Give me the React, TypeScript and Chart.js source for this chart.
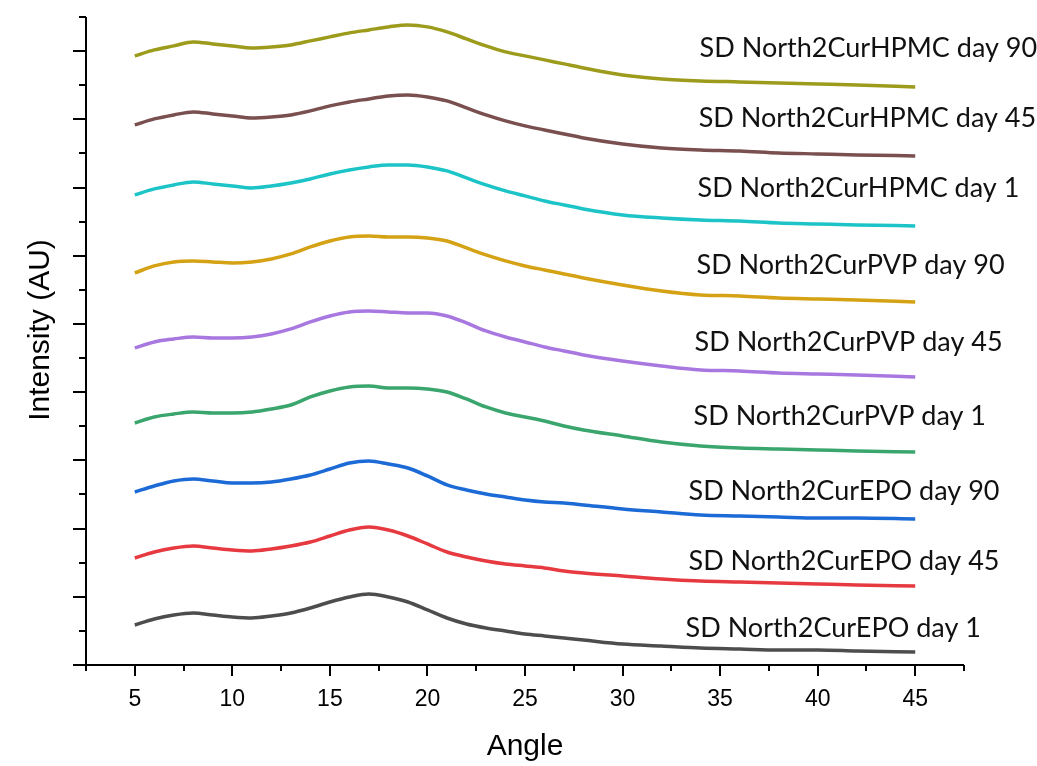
import React, { useEffect, useRef } from "react";
import { Chart, registerables } from "chart.js";

Chart.register(...registerables);

// Diffraction angle (2θ) sampling points
const angles = [5, 6, 7, 8, 9, 10, 11, 12, 13, 14, 15, 16, 17, 18, 19, 20, 21, 22, 23, 24, 25, 26, 27, 28, 30, 32, 34, 36, 38, 40, 42, 45];

// Offset (stacked) intensities, arbitrary units
const epoDay1 = [40, 46, 50, 52, 50, 48, 47, 49, 52, 57, 63, 68, 71, 68, 63, 55, 47, 41, 37, 34, 31, 29, 27, 25, 21, 19, 17, 16, 15, 15, 14, 13];
const epoDay45 = [107, 113, 117, 119, 117, 115, 114, 116, 119, 123, 129, 135, 138, 135, 129, 121, 113, 108, 104, 101, 99, 97, 94, 92, 89, 86, 84, 83, 82, 81, 80, 79];
const epoDay90 = [173, 179, 184, 186, 184, 182, 182, 183, 186, 190, 196, 202, 204, 201, 197, 189, 180, 175, 171, 168, 165, 163, 162, 160, 156, 153, 150, 149, 148, 147, 147, 146];
const pvpDay1 = [242, 248, 251, 253, 252, 252, 253, 256, 260, 268, 274, 278, 279, 277, 277, 276, 273, 266, 258, 252, 248, 244, 239, 235, 229, 223, 219, 217, 216, 215, 214, 213];
const pvpDay45 = [317, 323, 326, 328, 327, 327, 328, 331, 336, 343, 349, 353, 354, 353, 352, 352, 349, 342, 334, 328, 323, 318, 314, 310, 304, 299, 295, 294, 292, 291, 290, 288];
const pvpDay90 = [392, 399, 403, 404, 403, 402, 403, 406, 411, 418, 424, 428, 429, 428, 428, 427, 424, 417, 410, 404, 399, 395, 391, 387, 380, 374, 370, 369, 367, 366, 365, 363];
const hpmcDay1 = [470, 476, 480, 483, 481, 479, 477, 479, 482, 486, 491, 495, 498, 500, 500, 498, 494, 487, 480, 474, 469, 464, 460, 456, 450, 447, 445, 444, 442, 441, 440, 439];
const hpmcDay45 = [540, 546, 550, 553, 551, 549, 547, 548, 550, 554, 559, 563, 566, 569, 570, 568, 564, 557, 550, 544, 539, 535, 531, 527, 521, 517, 515, 514, 512, 511, 510, 509];
const hpmcDay90 = [609, 615, 619, 623, 621, 619, 617, 618, 620, 624, 628, 632, 635, 638, 640, 638, 633, 626, 619, 613, 609, 605, 601, 597, 590, 586, 584, 583, 582, 581, 580, 578];

const seriesNames = [
  "SD North2CurEPO day 1",
  "SD North2CurEPO day 45",
  "SD North2CurEPO day 90",
  "SD North2CurPVP day 1",
  "SD North2CurPVP day 45",
  "SD North2CurPVP day 90",
  "SD North2CurHPMC day 1",
  "SD North2CurHPMC day 45",
  "SD North2CurHPMC day 90",
];
const seriesValues = [epoDay1, epoDay45, epoDay90, pvpDay1, pvpDay45, pvpDay90, hpmcDay1, hpmcDay45, hpmcDay90];
const seriesColors = ["#4d4d4d", "#e63a40", "#1c6ad6", "#3aa56c", "#a878e0", "#d4a214", "#1cc4c8", "#7a4f4f", "#9c9b1c"];

// Label anchor (angle, intensity) for each trace caption
const labelAngles = [33.23, 33.38, 33.38, 33.64, 33.69, 33.79, 33.84, 33.9, 33.95];
const labelIntensities = [28, 95, 165, 240, 314, 391, 468, 538, 608];

// Axis ranges / ticks
const xMin = 2.5;
const xMax = 47.5;
const xStep = 2.5;
const yStep = 34.1;
const yTickCount = 19;

const decorPlugin = {
  id: "decor",
  afterDraw(chart: any) {
    const { ctx, chartArea, scales } = chart;
    const x = scales.x;
    const y = scales.y;
    ctx.save();
    ctx.strokeStyle = "#000";
    ctx.lineWidth = 2;
    ctx.lineCap = "butt";
    // axis lines
    ctx.beginPath();
    ctx.moveTo(chartArea.left, chartArea.top);
    ctx.lineTo(chartArea.left, chartArea.bottom);
    ctx.moveTo(chartArea.left, chartArea.bottom);
    ctx.lineTo(chartArea.right, chartArea.bottom);
    ctx.stroke();
    // y ticks (outward, left)
    for (let k = 0; k <= yTickCount; k++) {
      const py = Math.round(y.getPixelForValue(k * yStep));
      const len = k % 2 === 0 ? 13 : 7;
      ctx.beginPath();
      ctx.moveTo(chartArea.left - len, py);
      ctx.lineTo(chartArea.left, py);
      ctx.stroke();
    }
    // x ticks (outward, down)
    x.ticks.forEach((t: any) => {
      const px = Math.round(x.getPixelForValue(t.value));
      const major = Math.abs(t.value % 5) < 1e-6;
      const len = major ? 11 : 6;
      ctx.beginPath();
      ctx.moveTo(px, chartArea.bottom);
      ctx.lineTo(px, chartArea.bottom + len);
      ctx.stroke();
    });
    // trace captions
    ctx.fillStyle = "#111";
    ctx.font = '27px Lato, "Open Sans", sans-serif';
    ctx.textAlign = "left";
    ctx.textBaseline = "alphabetic";
    seriesNames.forEach((name, i) => {
      ctx.fillText(name, x.getPixelForValue(labelAngles[i]), y.getPixelForValue(labelIntensities[i]));
    });
    // y-axis title
    ctx.save();
    ctx.translate(41, (chartArea.top + chartArea.bottom) / 2 - 11);
    ctx.rotate(-Math.PI / 2);
    ctx.font = '30px "Liberation Sans", Arial, sans-serif';
    ctx.textAlign = "center";
    ctx.textBaseline = "middle";
    ctx.fillStyle = "#000";
    ctx.fillText("Intensity (AU)", 0, 0);
    ctx.restore();
    ctx.restore();
  },
};

export default function App() {
  const canvasRef = useRef<HTMLCanvasElement | null>(null);

  useEffect(() => {
    if (!canvasRef.current) return;
    const chart = new Chart(canvasRef.current, {
      type: "line",
      data: {
        labels: angles,
        datasets: seriesValues.map((vals, i) => ({
          label: seriesNames[i],
          data: vals.map((v, j) => ({ x: angles[j], y: v })),
          borderColor: seriesColors[i],
          backgroundColor: seriesColors[i],
          borderWidth: 3.5,
          pointRadius: 0,
          cubicInterpolationMode: "monotone" as const,
          fill: false,
        })),
      },
      options: {
        animation: false,
        responsive: true,
        maintainAspectRatio: false,
        layout: { padding: { left: 0, right: 73, top: 17, bottom: 0 } },
        plugins: { legend: { display: false }, tooltip: { enabled: false } },
        scales: {
          x: {
            type: "linear",
            min: xMin,
            max: xMax,
            grid: { display: false, drawTicks: false },
            border: { display: false },
            ticks: {
              stepSize: xStep,
              autoSkip: false,
              maxRotation: 0,
              padding: 21,
              color: "#000",
              font: { family: '"Liberation Sans", Arial, sans-serif', size: 23 },
              callback: (v: any) => (Math.abs(Number(v) % 5) < 1e-6 ? String(v) : ""),
            },
            title: {
              display: true,
              text: "Angle",
              color: "#000",
              font: { family: '"Liberation Sans", Arial, sans-serif', size: 30 },
              padding: { top: 0, bottom: 1 },
            },
            afterFit: (s: any) => {
              s.height = 101;
            },
          },
          y: {
            type: "linear",
            min: 0,
            max: yStep * yTickCount,
            grid: { display: false, drawTicks: false },
            border: { display: false },
            ticks: { display: false },
            afterFit: (s: any) => {
              s.width = 86;
            },
          },
        },
      },
      plugins: [decorPlugin],
    });
    return () => chart.destroy();
  }, []);

  return (
    <div style={{ position: "absolute", left: 0, top: 0, width: 1037, height: 766, background: "#fff" }}>
      <canvas ref={canvasRef} />
    </div>
  );
}
